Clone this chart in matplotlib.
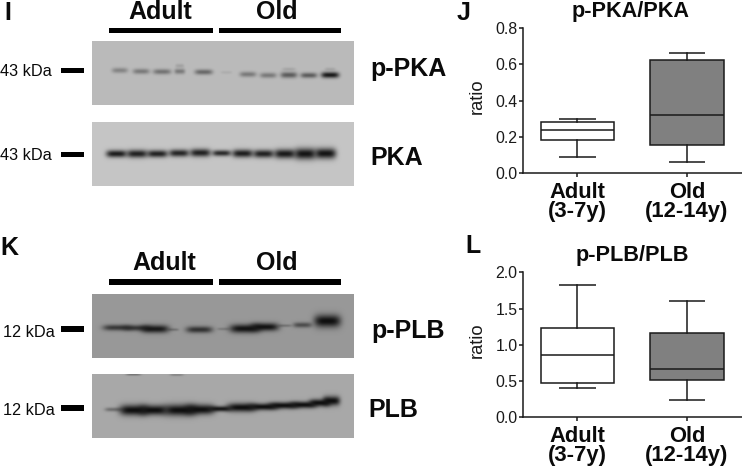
import numpy as np
import matplotlib
matplotlib.use("Agg")
import matplotlib.pyplot as plt
from matplotlib.patches import Rectangle

W, H = 742, 469
plt.rcParams['font.family'] = ['Liberation Sans', 'DejaVu Sans']

# --- box statistics: low whisker, q1, median, q3, high whisker
categories = ["Adult\n(3-7y)", "Old\n(12-14y)"]
pka_adult = [0.09, 0.18, 0.235, 0.28, 0.30]
pka_old = [0.06, 0.155, 0.32, 0.625, 0.66]
plb_adult = [0.40, 0.47, 0.865, 1.23, 1.83]
plb_old = [0.24, 0.51, 0.66, 1.165, 1.60]
pka_ticks = [0.0, 0.2, 0.4, 0.6, 0.8]
plb_ticks = [0.0, 0.5, 1.0, 1.5, 2.0]

# --- blot bands, read at 3x zoom: (x, y, half width, half height, darkness)
ppka_bands = [(360,212,24,8,.32),(424,215,25,8,.38),(487,216,27,8,.42),(540,215,16,8,.38),(540,198,13,6,.14),
              (612,217,27,8,.48),(680,218,17,5,.08),(745,224,25,8,.38),(806,227,25,8,.38),(868,226,25,9,.55),
              (868,208,20,5,.12),(928,227,25,8,.55),(992,226,27,9,.95),(992,208,16,5,.12)]
pka_bands = [(350,461,31,11,.93),(412,461,31,12,.9),(473,461,31,11,.9),(538,459,30,11,.88),(602,458,31,12,.9),
             (666,459,28,9,.85),(729,460,31,12,.92),(792,461,31,12,.9),(856,461,32,14,.94),(917,461,32,17,.97),(978,460,32,16,.97)]
pplb_bands = [(350,293,42,9,.7),(410,294,40,9,.7),(465,297,42,12,.92),(520,299,16,4,.28),(598,299,40,10,.75),
              (670,297,18,4,.22),(735,296,46,13,.97),(795,291,42,12,.97),(855,287,20,4,.28),(908,285,28,8,.55),(983,273,40,19,1)]
plb_bands = [(340,539,26,6,.38),(400,541,42,16,1),(460,541,42,15,1),(540,541,48,17,1),(600,539,44,15,1),(660,537,34,8,.95),
             (725,533,44,13,1),(790,531,44,10,1),(850,527,44,10,1),(910,525,40,10,1),(960,519,32,11,1),(995,513,26,14,1),
             (400,434,22,3,.35),(530,435,20,3,.25)]

fig = plt.figure(figsize=(W / 100, H / 100), dpi=100, facecolor='white')
bg = fig.add_axes([0, 0, 1, 1])
bg.set_xlim(0, W); bg.set_ylim(H, 0); bg.axis('off')

def blot(x0, x1, y0, y1, level, bands, yoff):
    nx, ny = int(round(x1 - x0)) * 2, int(round(y1 - y0)) * 2
    xs = np.linspace(x0, x1, nx)
    ys = np.linspace(y0, y1, ny)
    X, Y = np.meshgrid(xs, ys)
    keep = np.ones_like(X)
    for bx, by, bw, bh, d in bands:
        cx, cy = bx / 3, yoff + by / 3
        g = np.exp(-((X - cx) / (bw / 3)) ** 4 - ((Y - cy) / (bh / 3)) ** 2)
        keep *= 1 - d * g
    img = 15 + (level - 15) * keep
    ax = fig.add_axes([x0 / W, 1 - y1 / H, (x1 - x0) / W, (y1 - y0) / H])
    ax.imshow(img, cmap='gray', vmin=0, vmax=255, aspect='auto', interpolation='bilinear')
    ax.axis('off')

blot(92.3, 354.3, 41.3, 105.3, 187, ppka_bands, 0)
blot(92.3, 354.3, 122, 185.7, 197, pka_bands, 0)
blot(92, 354, 294, 358, 152, pplb_bands, 230)
blot(92, 354, 374.3, 438, 168, plb_bands, 230)

def rect(x0, x1, y0, y1):
    bg.add_patch(Rectangle((x0, y0), x1 - x0, y1 - y0, fc='black', ec='none'))

for y0, y1 in [(27.7, 33.3), (279.3, 285)]:
    rect(109.3, 213.3, y0, y1)
    rect(219.3, 340.7, y0, y1)
for y0, y1 in [(67.7, 72.7), (152, 157), (326.3, 331.7), (405, 410.7)]:
    rect(60.7, 84, y0, y1)

def label(x, y, s, size, ha='left', bold=True):
    bg.text(x, y, s, fontsize=size, ha=ha, va='baseline', color='#0a0a0a',
            fontweight='bold' if bold else 'normal')

label(4, 20, 'I', 18); label(456.5, 20, 'J', 18); label(0, 255, 'K', 18); label(465, 253, 'L', 18)
label(160.5, 18.7, 'Adult', 18, 'center'); label(277, 18.7, 'Old', 18, 'center')
label(163.8, 270, 'Adult', 18, 'center'); label(277, 270, 'Old', 18, 'center')
label(370, 76, 'p-PKA', 18); label(370, 165, 'PKA', 18)
label(371, 338, 'p-PLB', 18); label(368, 416.7, 'PLB', 18)
label(0, 76, '43 kDa', 11.7, bold=False)
label(0, 160, '43 kDa', 11.7, bold=False)
label(2.7, 336.7, '12 kDa', 11.7, bold=False)
label(2.7, 415, '12 kDa', 11.7, bold=False)
label(631, 16.7, 'p-PKA/PKA', 15.6, 'center')
label(632.7, 261, 'p-PLB/PLB', 15.6, 'center')

def box_panel(top, bottom, ymax, ticks, adult, old):
    ax = fig.add_axes([522.7 / W, 1 - bottom / H, 219 / W, (bottom - top) / H])
    stats = []
    for vals, name in zip((adult, old), categories):
        lo, q1, med, q3, hi = vals
        stats.append(dict(whislo=lo, q1=q1, med=med, q3=q3, whishi=hi, label=name, fliers=[]))
    line = dict(color='#1a1a1a', linewidth=1.1)
    parts = ax.bxp(stats, positions=[1, 2], widths=0.67, patch_artist=True, showfliers=False,
                   boxprops=dict(edgecolor='#1a1a1a', linewidth=1.1), medianprops=line,
                   whiskerprops=line, capprops=line, capwidths=0.335)
    parts['boxes'][0].set_facecolor('white')
    parts['boxes'][1].set_facecolor('#808080')
    for c in parts['medians'] + parts['caps']:
        c.set_solid_capstyle('butt')
    ax.set_xlim(0.5, 2.5)
    ax.set_ylim(0, ymax)
    ax.set_yticks(ticks, [f'{t:.1f}' for t in ticks])
    ax.spines[['top', 'right']].set_visible(False)
    ax.spines[['left', 'bottom']].set_linewidth(1.1)
    ax.spines[['left', 'bottom']].set_color('#1a1a1a')
    ax.patch.set_alpha(0)
    ax.tick_params(axis='y', length=3.2, width=1.1, labelsize=11.4, pad=0.5, color='#1a1a1a', labelcolor='#1a1a1a')
    ax.tick_params(axis='x', length=2.6, width=1.1, pad=4, color='#1a1a1a')
    for t in ax.get_xticklabels():
        t.set_fontsize(15.8); t.set_fontweight('bold'); t.set_linespacing(0.85); t.set_color('#0a0a0a')
    return ax

box_panel(28, 173, 0.8, pka_ticks, pka_adult, pka_old)
box_panel(272.3, 417.3, 2.0, plb_ticks, plb_adult, plb_old)
bg.text(477, 96, 'ratio', fontsize=13.2, rotation=90, ha='center', va='center', color='#1a1a1a')
bg.text(477, 340, 'ratio', fontsize=13.2, rotation=90, ha='center', va='center', color='#1a1a1a')

fig.savefig('out.png', dpi=100, facecolor='white')
